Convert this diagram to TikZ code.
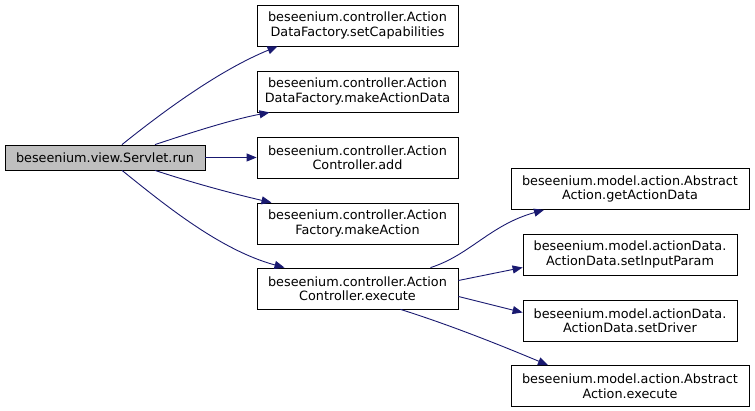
\documentclass[tikz,border=0pt]{standalone}
\usepackage{fontspec}
\setmainfont{DejaVu Sans}
\usetikzlibrary{arrows.meta}
\definecolor{edgecol}{HTML}{191970}
\begin{document}
\begin{tikzpicture}[x=1pt,y=-1pt,
  fn/.style={draw=black, line width=0.8pt, fill=white, align=center, inner sep=0pt,
    minimum height=41pt, font=\fontsize{12.8}{14.5}\selectfont},
  call/.style={draw=edgecol, line width=0.9pt, -{Triangle[length=10pt,width=8pt]}}]
\useasboundingbox (0,0) rectangle (755,411);
\node[fn, fill={rgb,255:red,191;green,191;blue,191}, minimum width=200pt, minimum height=25pt] (run) at (105,157.5) {beseenium.view.Servlet.run};
\node[fn, minimum width=201pt] (setcap) at (357.5,25.5) {beseenium.controller.Action\\DataFactory.setCapabilities};
\node[fn, minimum width=201pt] (makead) at (357.5,91.5) {beseenium.controller.Action\\DataFactory.makeActionData};
\node[fn, minimum width=201pt] (add) at (357.5,157.5) {beseenium.controller.Action\\Controller.add};
\node[fn, minimum width=201pt] (makea) at (357.5,223.5) {beseenium.controller.Action\\Factory.makeAction};
\node[fn, minimum width=201pt] (exec) at (357.5,288.5) {beseenium.controller.Action\\Controller.execute};
\node[fn, minimum width=238pt] (getad) at (630,189) {beseenium.model.action.Abstract\\Action.getActionData};
\node[fn, minimum width=214pt] (setip) at (630,254.5) {beseenium.model.actionData.\\ActionData.setInputParam};
\node[fn, minimum width=214pt] (setdr) at (630,320.5) {beseenium.model.actionData.\\ActionData.setDriver};
\node[fn, minimum width=238pt] (aexec) at (630,386) {beseenium.model.action.Abstract\\Action.execute};
\draw[call] ([xshift=17pt]run.north) .. controls (165,110) and (220,70) .. ([xshift=-80pt]setcap.south);
\draw[call] ([xshift=50pt]run.north) .. controls (190,133) and (230,120) .. ([xshift=-88pt]makead.south);
\draw[call] (run.east) -- (add.west);
\draw[call] ([xshift=50pt]run.south) .. controls (190,182) and (230,193) .. ([xshift=-86pt]makea.north);
\draw[call] ([xshift=17pt]run.south) .. controls (165,205) and (220,250) .. ([xshift=-73pt]exec.north);
\draw[call] ([xshift=73pt]exec.north) .. controls (470,255) and (490,225) .. ([xshift=-86pt]getad.south);
\draw[call] ([yshift=8pt]exec.east) -- ([yshift=-13pt]setip.west);
\draw[call] ([yshift=-8pt]exec.east) -- ([yshift=8pt]setdr.west);
\draw[call] ([xshift=43pt]exec.south) .. controls (450,325) and (500,345) .. ([xshift=-82pt]aexec.north);
\end{tikzpicture}
\end{document}
